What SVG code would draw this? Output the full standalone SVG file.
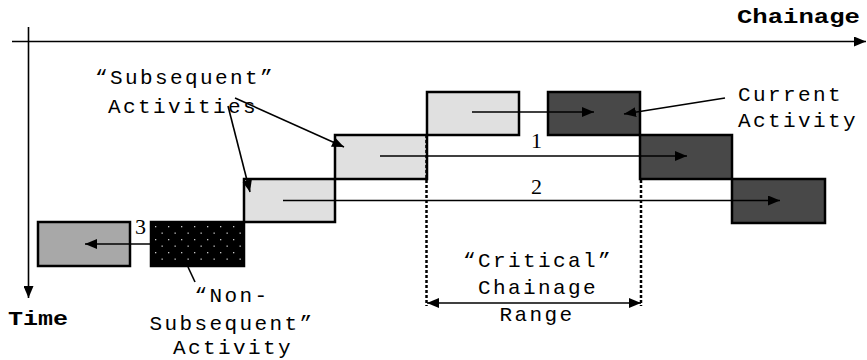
<svg xmlns="http://www.w3.org/2000/svg" width="867" height="360" viewBox="0 0 867 360">
<style>
.lbl{font-family:"Liberation Mono","Courier New",monospace;font-size:21px;letter-spacing:2.4px;fill:#000}
.ax{font-family:"Liberation Mono","Courier New",monospace;font-size:21px;font-weight:bold;fill:#000}
.num{font-family:"Liberation Serif","Times New Roman",serif;font-size:22px;fill:#000}
.box{stroke:#000;stroke-width:2.5}
.light{fill:#e0e0e0}
.dark{fill:#484848}
.mid{fill:#a8a8a8}
.ln{stroke:#000;stroke-width:1.6;fill:none}
.dot{stroke:#000;stroke-width:2.5;stroke-dasharray:3 2;fill:none}
</style>
<defs>
<marker id="ah" viewBox="0 0 12 10" refX="12" refY="5" markerWidth="12" markerHeight="10" markerUnits="userSpaceOnUse" orient="auto">
<path d="M0,0 L12,5 L0,10 Z" fill="#000"/>
</marker>
<marker id="ahs" viewBox="0 0 12 10" refX="0" refY="5" markerWidth="12" markerHeight="10" markerUnits="userSpaceOnUse" orient="auto">
<path d="M12,0 L0,5 L12,10 Z" fill="#000"/>
</marker>
<pattern id="dots" width="13" height="13" patternUnits="userSpaceOnUse" x="151" y="222">
<rect width="13" height="13" fill="#000"/>
<rect x="4" y="4" width="1.3" height="1.3" fill="#c8c8c8"/>
<rect x="10.5" y="10.5" width="1.3" height="1.3" fill="#c8c8c8"/>
</pattern>
</defs>

<g id="axes">
<line class="ln" x1="12" y1="41.5" x2="866" y2="41.5" marker-end="url(#ah)"/>
<line class="ln" x1="28.5" y1="27" x2="28.5" y2="298" marker-end="url(#ah)"/>
<text class="ax" x="737" y="23" textLength="123" lengthAdjust="spacingAndGlyphs">Chainage</text>
<text class="ax" x="8" y="325" textLength="60" lengthAdjust="spacingAndGlyphs">Time</text>
</g>

<g id="box-a"><rect class="box mid" x="38" y="222" width="92" height="44"/></g>
<g id="box-b"><rect class="box" fill="url(#dots)" x="151" y="222" width="93" height="44"/></g>
<g id="box-c"><rect class="box light" x="244" y="179" width="91" height="43"/></g>
<g id="box-d"><rect class="box light" x="335" y="135" width="92" height="44"/></g>
<g id="box-e"><rect class="box light" x="427" y="92" width="92" height="43"/></g>
<g id="box-f"><rect class="box dark" x="548" y="92" width="92" height="43"/></g>
<g id="box-g"><rect class="box dark" x="640" y="135" width="92" height="44"/></g>
<g id="box-h"><rect class="box dark" x="732" y="179" width="93" height="44"/></g>

<g id="connectors">
<line class="ln" x1="472" y1="112" x2="594" y2="112" marker-end="url(#ah)"/>
<line class="ln" x1="380" y1="156" x2="687" y2="156" marker-end="url(#ah)"/>
<line class="ln" x1="283" y1="200.5" x2="780" y2="200.5" marker-end="url(#ah)"/>
<line class="ln" x1="151" y1="244" x2="85" y2="244" marker-end="url(#ah)"/>
<line class="ln" x1="725" y1="98" x2="624" y2="114" marker-end="url(#ah)"/>
<line class="ln" x1="235" y1="98" x2="344" y2="147" marker-end="url(#ah)"/>
<line class="ln" x1="228" y1="106" x2="250" y2="192" marker-end="url(#ah)"/>
<line class="ln" x1="188" y1="267" x2="195" y2="282"/>
<line class="dot" x1="426.5" y1="135" x2="426.5" y2="306"/>
<line class="dot" x1="641" y1="180" x2="641" y2="306"/>
<line class="ln" x1="427" y1="303" x2="641" y2="303" marker-start="url(#ahs)" marker-end="url(#ah)"/>
</g>

<g id="labels">
<text class="num" x="531" y="148">1</text>
<text class="num" x="531" y="194">2</text>
<text class="num" x="135" y="234">3</text>
<text class="lbl" x="95" y="84">“Subsequent”</text>
<text class="lbl" x="108" y="113">Activities</text>
<text class="lbl" x="738" y="101">Current</text>
<text class="lbl" x="738" y="127">Activity</text>
<text class="lbl" x="232" y="302" text-anchor="middle">“Non-</text>
<text class="lbl" x="232" y="330" text-anchor="middle">Subsequent”</text>
<text class="lbl" x="233" y="354" text-anchor="middle">Activity</text>
<text class="lbl" x="538" y="267" text-anchor="middle">“Critical”</text>
<text class="lbl" x="538" y="294" text-anchor="middle">Chainage</text>
<text class="lbl" x="537" y="321" text-anchor="middle">Range</text>
</g>
</svg>
